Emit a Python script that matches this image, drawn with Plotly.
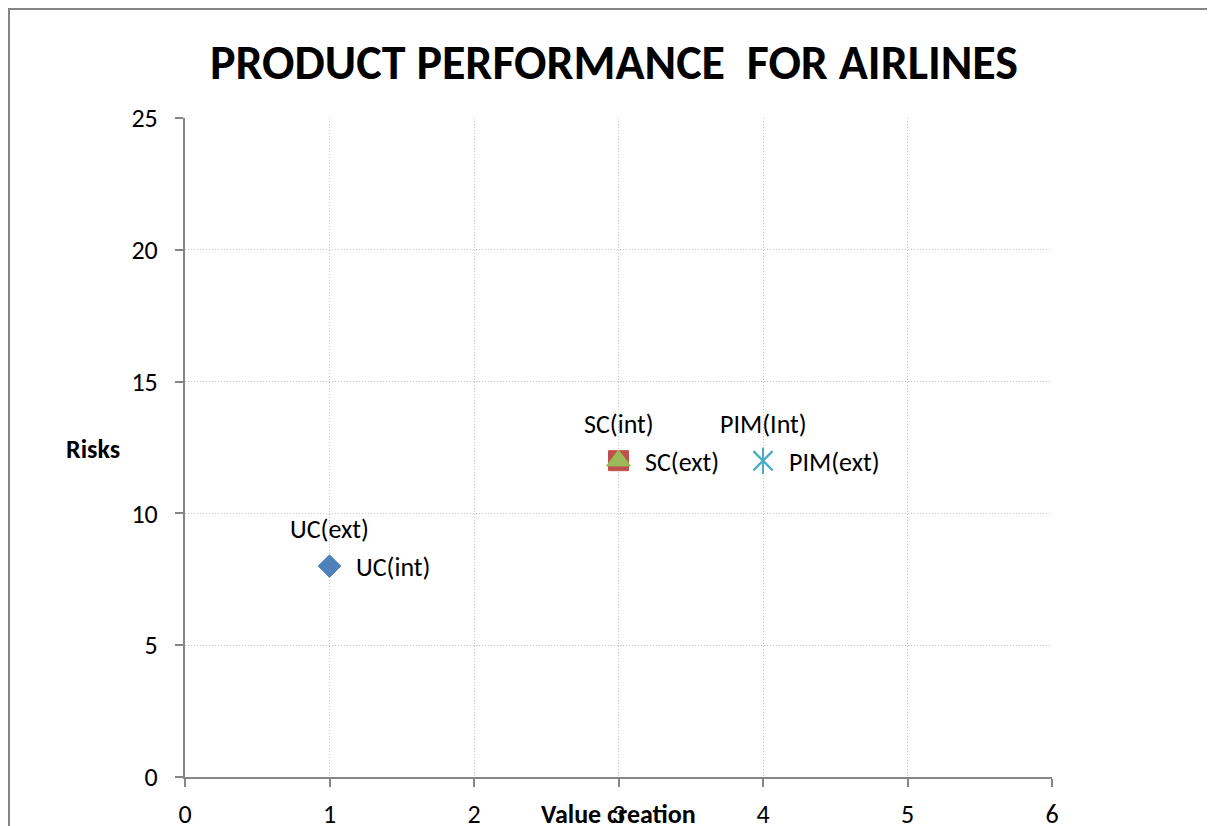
import plotly.graph_objects as go

# Data
series_names = ["UC(int)", "UC(ext)", "SC(int)", "SC(ext)", "PIM(Int)", "PIM(ext)"]
x_values = [1, 1, 3, 3, 4, 4]
y_values = [8, 8, 12, 12, 12, 12]
label_positions = ["right", "top", "top", "right", "top", "right"]
x_ticks = [0, 1, 2, 3, 4, 5, 6]
y_ticks = [0, 5, 10, 15, 20, 25]

styles = {
    "UC(int)": dict(symbol="diamond", color="#4F81BD", size=17),
    "UC(ext)": dict(symbol="diamond", color="#4F81BD", size=17),
    "SC(int)": dict(symbol="square", color="#C0504D", size=20),
    "SC(ext)": dict(symbol="triangle-up", color="#9BBB59", size=21),
    "PIM(Int)": dict(symbol="x-thin-open", color="#4BACC6", size=19),
    "PIM(ext)": dict(symbol="x-thin-open", color="#4BACC6", size=19),
}

FONT = "Carlito, Lato, 'Open Sans', sans-serif"
FS = 26
TICK_FS = 26

fig = go.Figure()
annotations = []
for name, x, y, pos in zip(series_names, x_values, y_values, label_positions):
    st = styles[name]
    fig.add_trace(go.Scatter(
        x=[x], y=[y], mode="markers", name=name,
        marker=dict(symbol=st["symbol"], color=st["color"], size=st["size"],
                    line=dict(width=1 if "open" not in st["symbol"] else 2, color=st["color"])),
        cliponaxis=False, showlegend=False,
    ))
    if name == "PIM(ext)":
        fig.add_trace(go.Scatter(
            x=[x], y=[y], mode="markers", showlegend=False,
            marker=dict(symbol="line-ns-open", color=st["color"], size=19,
                        line=dict(width=2, color=st["color"])),
        ))
    if pos == "right":
        annotations.append(dict(text=name, x=x, y=y, xref="x", yref="y", showarrow=False,
                                xanchor="left", yanchor="middle", xshift=24, yshift=-1,
                                font=dict(size=FS, color="black")))
    else:
        annotations.append(dict(text=name, x=x, y=y, xref="x", yref="y", showarrow=False,
                                xanchor="center", yanchor="middle", yshift=37,
                                font=dict(size=FS, color="black")))

# screen offset of the page body (8px)
OFF = 8
W, H = 1207, 818
L, T = 185 - OFF, 118 - OFF
R = W - (1052 - OFF)
B = H - (777 - OFF)
pw, ph = W - L - R, H - T - B

def px_x(p):
    return (p - OFF - L) / pw

def px_y(p):
    return (H - B - (p - OFF)) / ph

axis_common = dict(showgrid=True, gridcolor="#c4c4c4", griddash="1px,2px", gridwidth=1,
                   showline=True, linecolor="#868686", linewidth=2, ticks="outside",
                   ticklen=8, tickcolor="#868686", tickwidth=2, zeroline=False,
                   tickfont=dict(size=TICK_FS), automargin=False)

annotations += [
    dict(text="<b>Risks</b>", xref="paper", yref="paper", x=px_x(93), y=px_y(449),
         showarrow=False, font=dict(size=FS), xanchor="center", yanchor="middle"),
    dict(text="<b>Value creation</b>", xref="paper", yref="paper", x=px_x(618), y=px_y(814),
         showarrow=False, font=dict(size=FS), xanchor="center", yanchor="middle"),
]

fig.update_layout(
    width=W, height=H,
    margin=dict(l=L, r=R, t=T, b=B, autoexpand=False),
    paper_bgcolor="white", plot_bgcolor="white",
    font=dict(family=FONT, size=FS, color="black"),
    title=dict(text="<b>PRODUCT PERFORMANCE  FOR AIRLINES</b>", xref="paper", x=px_x(614),
               xanchor="center", yref="container", y=1 - (62 - OFF) / H, yanchor="middle",
               font=dict(size=48, family=FONT)),
    xaxis=dict(range=[0, 6], tickvals=x_ticks, ticklabelstandoff=5, **axis_common),
    yaxis=dict(range=[0, 25], tickvals=y_ticks, ticklabelstandoff=12, **axis_common),
    shapes=[dict(type="rect", xref="paper", yref="paper",
                 x0=px_x(9), x1=px_x(1240), y0=px_y(860), y1=px_y(9),
                 line=dict(color="#868686", width=2), fillcolor="rgba(0,0,0,0)", layer="below")],
    annotations=annotations,
)

fig.write_html("out.html")
